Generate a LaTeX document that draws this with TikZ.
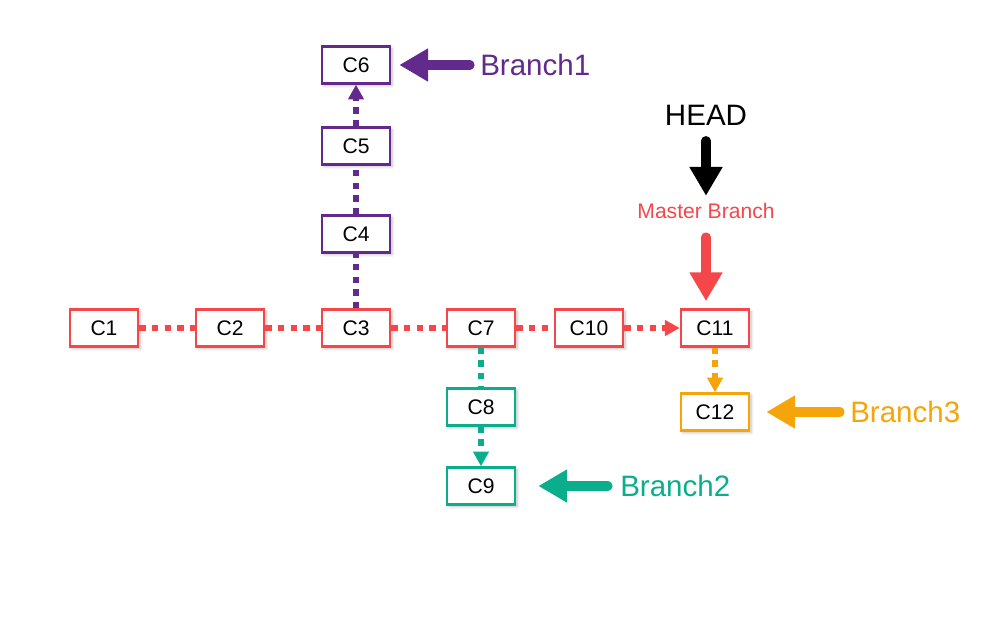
\documentclass[tikz,border=0pt]{standalone}
\usepackage{fontspec}
\setmainfont{Liberation Sans}
\usepackage{xcolor}
\definecolor{mred}{HTML}{F5474A}
\definecolor{mpurple}{HTML}{612A8C}
\definecolor{mteal}{HTML}{0AAE8C}
\definecolor{morange}{HTML}{F5A50A}
\usetikzlibrary{arrows.meta,shadows.blur}

\tikzset{
  commit/.style={draw=#1, line width=1.8pt, fill=white, minimum width=1.7cm, minimum height=0.92cm,
    font=\fontsize{15}{15}\selectfont, blur shadow={shadow blur steps=6, shadow xshift=1.5pt, shadow yshift=-1.5pt, shadow opacity=25}},
  link/.style={draw=#1, line width=3.8pt, dash pattern=on 4.5pt off 4.5pt},
  linkarrow/.style={link=#1, -{Triangle[length=0.37cm, width=0.38cm, fill=#1]}},
  pointer/.style={draw=#1, line width=6.5pt, line cap=round, -{Triangle[length=0.72cm, width=0.78cm, fill=#1]}},
  branchlabel/.style={text=#1, font=\fontsize{21}{21}\selectfont, anchor=west, inner sep=0pt}
}

\begin{document}
\begin{tikzpicture}[x=0.025cm, y=-0.025cm]

  \useasboundingbox (0,0) rectangle (1003,634);

  % master line
  \node[commit=mred] (c1) at (104,328) {C1};
  \node[commit=mred] (c2) at (230,328) {C2};
  \node[commit=mred] (c3) at (356,328) {C3};
  \node[commit=mred] (c7) at (481,328) {C7};
  \node[commit=mred] (c10) at (589,328) {C10};
  \node[commit=mred] (c11) at (715,328) {C11};

  % branch1
  \node[commit=mpurple] (c4) at (356,234) {C4};
  \node[commit=mpurple] (c5) at (356,146) {C5};
  \node[commit=mpurple] (c6) at (356,65) {C6};

  % branch2
  \node[commit=mteal] (c8) at (481,407) {C8};
  \node[commit=mteal] (c9) at (481,486) {C9};

  % branch3
  \node[commit=morange] (c12) at (715,412) {C12};

  \draw[link=mred] (c1) -- (c2);
  \draw[link=mred] (c2) -- (c3);
  \draw[link=mred] (c3) -- (c7);
  \draw[link=mred] (c7) -- (c10);
  \draw[linkarrow=mred] (c10) -- (c11);

  \draw[link=mpurple] (c3) -- (c4);
  \draw[link=mpurple] (c4) -- (c5);
  \draw[linkarrow=mpurple] (c5) -- (c6);

  \draw[link=mteal] (c7) -- (c8);
  \draw[linkarrow=mteal] (c8) -- (c9);

  \draw[linkarrow=morange] (c11) -- (c12);

  % labels
  \node[branchlabel=mpurple] (b1) at (480,65) {Branch1};
  \node[branchlabel=mteal] (b2) at (620,486) {Branch2};
  \node[branchlabel=morange] (b3) at (850,412) {Branch3};
  \node[font=\fontsize{21}{21}\selectfont, inner sep=0pt] (head) at (706,115) {HEAD};
  \node[text=mred, font=\fontsize{15}{15}\selectfont, inner sep=0pt] (master) at (706,211) {Master Branch};

  \draw[pointer=mpurple, shorten <=0.25cm, shorten >=0.2cm] (b1.west) -- (c6.east);
  \draw[pointer=mteal, shorten <=0.3cm, shorten >=0.55cm] (b2.west) -- (c9.east);
  \draw[pointer=morange, shorten <=0.25cm, shorten >=0.4cm] (b3.west) -- (c12.east);
  \draw[pointer=black, shorten <=0.38cm, shorten >=0.18cm] (head.south) -- (master.north);
  \draw[pointer=mred, shorten <=0.45cm, shorten >=0.18cm] (master.south) -- (master.south |- c11.north);

\end{tikzpicture}
\end{document}
